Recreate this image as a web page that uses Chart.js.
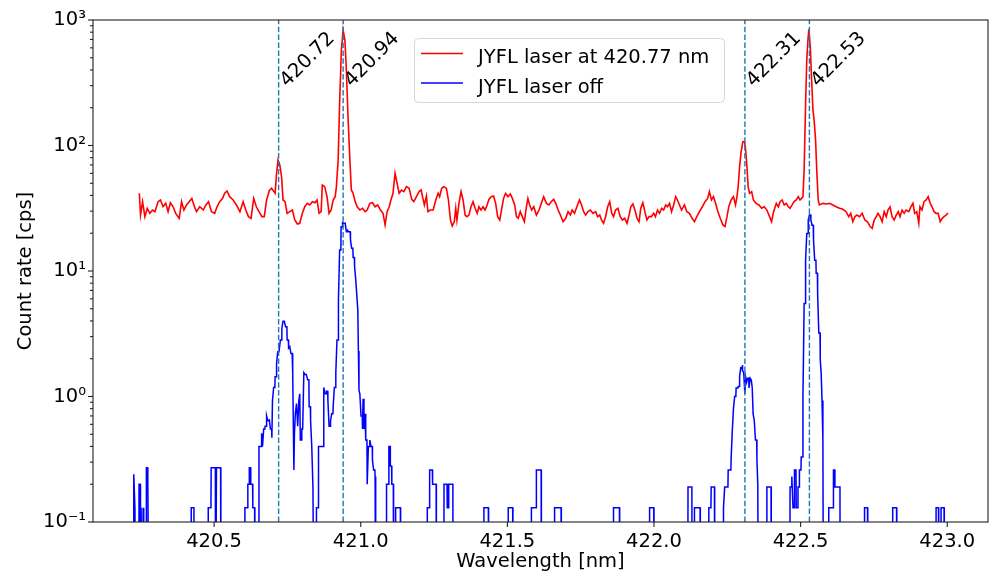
<!DOCTYPE html>
<html>
<head>
<meta charset="utf-8">
<script src="https://cdn.jsdelivr.net/npm/chart.js@4.4.0/dist/chart.umd.min.js"></script>
<style>
  html, body { margin: 0; padding: 0; background: #fff; }
  #wrap { width: 992px; height: 577px; position: relative; }
</style>
</head>
<body>
<div id="wrap"><canvas id="spectrum"></canvas></div>
<script>
// Axis ticks
const xTicks = [420.5, 421.0, 421.5, 422.0, 422.5, 423.0];
const yTicks = [0.1, 1, 10, 100, 1000];
const yTickLabels = ['10⁻¹', '10⁰', '10¹', '10²', '10³'];

// Known transitions (dashed lines)
const peakLines = [420.72, 420.94, 422.31, 422.53];
const peakLabels = ['420.72', '420.94', '422.31', '422.53'];
const peakLabelRate = 290;

// Laser on (red)
const redWavelength = [
  420.245, 420.249, 420.256, 420.264, 420.272, 420.281, 420.290, 420.298, 420.309, 420.317,
  420.326, 420.335, 420.343, 420.351, 420.360, 420.369, 420.381, 420.389, 420.397, 420.406,
  420.415, 420.424, 420.433, 420.440, 420.451, 420.463, 420.472, 420.481, 420.491, 420.502,
  420.510, 420.519, 420.529, 420.536, 420.544, 420.553, 420.565, 420.576, 420.588, 420.599,
  420.608, 420.617, 420.626, 420.635, 420.644, 420.653, 420.663, 420.671, 420.679, 420.688,
  420.696, 420.704, 420.708, 420.713, 420.718, 420.724, 420.730, 420.735, 420.742, 420.749,
  420.758, 420.767, 420.775, 420.784, 420.792, 420.801, 420.809, 420.818, 420.826, 420.835,
  420.844, 420.851, 420.858, 420.865, 420.869, 420.877, 420.885, 420.892, 420.899, 420.906,
  420.913, 420.917, 420.923, 420.928, 420.934, 420.940, 420.946, 420.951, 420.957, 420.963,
  420.968, 420.974, 420.981, 420.988, 420.997, 421.006, 421.015, 421.022, 421.031, 421.040,
  421.049, 421.058, 421.067, 421.076, 421.083, 421.090, 421.097, 421.103, 421.110, 421.117,
  421.124, 421.131, 421.139, 421.147, 421.156, 421.165, 421.174, 421.181, 421.190, 421.199,
  421.206, 421.212, 421.217, 421.224, 421.229, 421.237, 421.247, 421.256, 421.264, 421.269,
  421.276, 421.283, 421.292, 421.299, 421.306, 421.312, 421.319, 421.324, 421.328, 421.335,
  421.342, 421.349, 421.356, 421.362, 421.369, 421.376, 421.383, 421.390, 421.397, 421.403,
  421.410, 421.417, 421.424, 421.431, 421.437, 421.445, 421.453, 421.460, 421.467, 421.474,
  421.481, 421.487, 421.494, 421.502, 421.510, 421.517, 421.525, 421.531, 421.537, 421.544,
  421.551, 421.558, 421.565, 421.570, 421.576, 421.583, 421.590, 421.599, 421.608, 421.616,
  421.624, 421.633, 421.642, 421.650, 421.658, 421.665, 421.673, 421.681, 421.690, 421.699,
  421.707, 421.715, 421.721, 421.729, 421.737, 421.746, 421.753, 421.760, 421.767, 421.775,
  421.783, 421.792, 421.801, 421.808, 421.815, 421.821, 421.828, 421.835, 421.842, 421.849,
  421.856, 421.862, 421.869, 421.877, 421.885, 421.892, 421.900, 421.908, 421.915, 421.921,
  421.928, 421.935, 421.942, 421.949, 421.955, 421.962, 421.969, 421.976, 421.983, 421.991,
  421.999, 422.005, 422.012, 422.019, 422.026, 422.033, 422.040, 422.046, 422.053, 422.060,
  422.067, 422.074, 422.080, 422.087, 422.094, 422.104, 422.112, 422.121, 422.130, 422.138,
  422.146, 422.155, 422.165, 422.174, 422.183, 422.189, 422.196, 422.203, 422.210, 422.218,
  422.226, 422.235, 422.242, 422.249, 422.255, 422.263, 422.271, 422.278, 422.283, 422.287,
  422.292, 422.297, 422.303, 422.309, 422.312, 422.317, 422.321, 422.326, 422.333, 422.339,
  422.348, 422.358, 422.367, 422.376, 422.385, 422.394, 422.401, 422.408, 422.417, 422.424,
  422.430, 422.437, 422.444, 422.451, 422.458, 422.464, 422.471, 422.478, 422.485, 422.492,
  422.498, 422.503, 422.508, 422.512, 422.517, 422.521, 422.525, 422.528, 422.533, 422.537,
  422.542, 422.546, 422.551, 422.555, 422.560, 422.564, 422.576, 422.587, 422.598, 422.610,
  422.621, 422.633, 422.644, 422.655, 422.664, 422.671, 422.678, 422.685, 422.692, 422.701,
  422.710, 422.719, 422.728, 422.737, 422.744, 422.751, 422.758, 422.764, 422.771, 422.778,
  422.785, 422.792, 422.798, 422.805, 422.812, 422.819, 422.826, 422.833, 422.839, 422.846,
  422.853, 422.860, 422.869, 422.876, 422.883, 422.889, 422.896, 422.903, 422.907, 422.914,
  422.921, 422.928, 422.935, 422.942, 422.948, 422.955, 422.962, 422.969, 422.976, 422.983,
  422.989, 422.996, 423.003
];
const redRate = [
  41.6, 27.9, 35.7, 27.1, 31.6, 28.8, 30.6, 29.7, 35.7, 36.8,
  32.5, 34.6, 29.7, 35.0, 32.5, 28.8, 26.3, 35.7, 30.6, 33.6,
  35.7, 37.9, 32.5, 29.7, 32.5, 30.6, 33.6, 35.7, 29.7, 28.8,
  32.5, 35.7, 37.9, 41.6, 43.4, 39.1, 36.8, 33.6, 29.7, 35.7,
  30.6, 27.1, 26.3, 37.9, 32.5, 29.7, 27.1, 27.1, 36.8, 43.6,
  45.6, 42.9, 41.6, 60.0, 76.6, 69.9, 56.5, 36.8, 35.7, 28.8,
  29.7, 30.6, 25.5, 23.7, 24.0, 28.8, 32.5, 34.6, 33.6, 35.7,
  35.0, 36.8, 28.8, 29.7, 48.4, 47.0, 39.1, 28.8, 30.6, 36.8,
  39.1, 47.0, 76.6, 217, 577, 832, 693, 400, 160, 76.6,
  44.2, 41.6, 35.7, 32.5, 30.6, 31.6, 29.7, 30.6, 34.6, 35.0,
  32.5, 33.6, 30.6, 28.8, 23.3, 29.7, 32.5, 36.8, 41.6, 60.0,
  49.9, 41.6, 44.2, 42.9, 47.0, 45.6, 37.2, 35.7, 39.1, 42.9,
  44.2, 37.9, 33.6, 39.6, 29.7, 30.6, 30.6, 36.8, 41.6, 39.1,
  45.6, 47.0, 45.6, 36.8, 25.5, 22.8, 24.7, 31.6, 25.5, 34.6,
  42.9, 36.8, 27.9, 27.1, 27.9, 32.5, 35.7, 31.6, 28.8, 32.5,
  30.6, 32.5, 30.6, 33.6, 37.2, 39.1, 39.6, 34.6, 27.1, 25.5,
  31.6, 37.9, 41.6, 39.1, 41.1, 37.9, 33.6, 27.1, 26.3, 29.7,
  27.1, 24.7, 32.5, 37.9, 33.6, 30.6, 32.5, 27.9, 30.6, 34.6,
  39.1, 34.6, 33.6, 35.7, 37.2, 34.6, 30.6, 27.9, 24.7, 26.3,
  29.7, 27.9, 30.6, 28.8, 32.5, 36.8, 33.6, 29.7, 27.9, 29.7,
  30.6, 28.8, 29.7, 27.1, 27.9, 25.5, 24.0, 27.1, 32.5, 35.7,
  28.8, 27.1, 30.6, 31.6, 27.1, 25.5, 26.3, 24.0, 27.9, 32.5,
  34.2, 30.6, 26.3, 24.7, 31.6, 35.0, 29.7, 25.5, 27.1, 27.1,
  28.8, 27.1, 30.6, 28.8, 31.6, 30.6, 33.6, 32.5, 34.6, 29.7,
  33.6, 39.1, 36.8, 33.6, 30.6, 33.6, 29.7, 28.8, 26.3, 24.7,
  27.1, 29.7, 32.5, 35.7, 37.9, 42.9, 36.8, 39.1, 34.6, 29.7,
  26.3, 23.3, 22.6, 27.1, 32.5, 36.8, 39.1, 33.6, 39.1, 47.0,
  67.8, 89, 107, 107, 95, 67.8, 47.0, 41.6, 42.9, 36.8,
  34.6, 33.6, 31.6, 32.5, 30.6, 27.1, 24.7, 29.7, 34.6, 32.5,
  35.7, 36.8, 33.6, 34.6, 32.5, 31.6, 33.6, 35.7, 36.8, 39.1,
  36.8, 37.9, 39.1, 63.8, 217, 480, 693, 842, 613, 354,
  192, 160, 111, 63.8, 36.8, 33.6, 34.6, 34.2, 34.6, 33.6,
  32.5, 31.6, 31.0, 29.7, 27.1, 28.8, 24.7, 27.1, 27.9, 27.1,
  28.8, 25.5, 24.7, 22.6, 21.9, 25.5, 27.1, 28.8, 27.1, 24.7,
  29.7, 27.1, 30.6, 32.5, 27.1, 25.5, 27.9, 29.7, 27.1, 30.6,
  28.8, 30.6, 29.7, 32.5, 34.6, 28.8, 29.7, 24.0, 32.5, 30.6,
  35.7, 36.8, 39.1, 34.6, 32.5, 29.7, 28.8, 28.8, 24.7, 26.3,
  27.1, 27.9, 29.0
];

// Laser off (blue): each value holds from its wavelength to the next one, 0 = no counts
const blueWavelength = [
  420.220, 420.226, 420.230, 420.233, 420.244, 420.249, 420.251, 420.255, 420.258, 420.260,
  420.269, 420.274, 420.278, 420.422, 420.432, 420.480, 420.490, 420.505, 420.508, 420.523,
  420.605, 420.615, 420.620, 420.625, 420.632, 420.639, 420.653, 420.662, 420.665, 420.669,
  420.674, 420.679, 420.683, 420.688, 420.692, 420.697, 420.699, 420.703, 420.708, 420.713,
  420.717, 420.722, 420.726, 420.731, 420.735, 420.740, 420.744, 420.749, 420.754, 420.758,
  420.762, 420.767, 420.769, 420.772, 420.774, 420.777, 420.781, 420.785, 420.789, 420.792,
  420.794, 420.799, 420.802, 420.806, 420.810, 420.815, 420.819, 420.824, 420.829, 420.833,
  420.837, 420.841, 420.849, 420.856, 420.874, 420.878, 420.883, 420.888, 420.892, 420.897,
  420.901, 420.906, 420.910, 420.915, 420.919, 420.924, 420.928, 420.933, 420.938, 420.942,
  420.947, 420.951, 420.956, 420.960, 420.965, 420.969, 420.974, 420.979, 420.983, 420.987,
  420.990, 420.992, 420.994, 420.997, 421.001, 421.006, 421.008, 421.011, 421.015, 421.017,
  421.022, 421.026, 421.031, 421.035, 421.040, 421.044, 421.049, 421.051, 421.088, 421.096,
  421.101, 421.106, 421.112, 421.119, 421.136, 421.227, 421.235, 421.245, 421.258, 421.284,
  421.295, 421.300, 421.315, 421.420, 421.436, 421.503, 421.519, 421.582, 421.599, 421.616,
  421.661, 421.684, 421.862, 421.883, 421.985, 422.000, 422.116, 422.130, 422.138, 422.158,
  422.187, 422.195, 422.207, 422.237, 422.241, 422.253, 422.263, 422.267, 422.271, 422.275,
  422.280, 422.287, 422.292, 422.296, 422.301, 422.303, 422.306, 422.310, 422.312, 422.316,
  422.319, 422.324, 422.328, 422.332, 422.335, 422.338, 422.342, 422.346, 422.351, 422.354,
  422.356, 422.385, 422.400, 422.464, 422.470, 422.474, 422.479, 422.485, 422.491, 422.496,
  422.502, 422.508, 422.512, 422.517, 422.521, 422.526, 422.530, 422.535, 422.539, 422.544,
  422.548, 422.553, 422.558, 422.562, 422.567, 422.570, 422.573, 422.576, 422.578, 422.596,
  422.612, 422.617, 422.635, 422.718, 422.729, 422.814, 422.828, 422.962, 422.971, 422.979,
  422.990
];
const blueRate = [
  0, 0.24, 0.13, 0, 0.2, 0, 0.13, 0, 0.13, 0,
  0.27, 0.2, 0, 0.13, 0, 0.13, 0.27, 0, 0.27, 0,
  0.13, 0.2, 0.27, 0.2, 0.13, 0, 0.4, 0.51, 0.4, 0.55,
  0.58, 0.70, 0.64, 0.66, 0.55, 0.47, 0.93, 1.18, 1.44, 1.84,
  2.27, 2.35, 2.82, 3.5, 3.97, 3.9, 3.6, 2.82, 2.43, 2.5,
  2.2, 1.84, 1.55, 0.26, 0.51, 0.73, 0.88, 0.58, 0.93, 1.05,
  0.45, 0.55, 0.55, 1.55, 1.5, 1.5, 1.36, 0.83, 0.64, 0.4,
  0.19, 0, 0.13, 0.4, 1.18, 1.05, 1.1, 0.93, 0.58, 0.64,
  0.73, 0.83, 1.18, 1.55, 2.82, 5.9, 14.7, 22.5, 24.3, 24,
  24, 20.5, 21, 20.5, 17.7, 15.2, 12.8, 10.9, 8.5, 6.2,
  4.9, 2.3, 1.12, 1.05, 0.70, 0.55, 0.96, 0.55, 0.73, 0.45,
  0.2, 0.4, 0.45, 0.4, 0.31, 0.26, 0.23, 0, 0.2, 0.4,
  0.28, 0.2, 0, 0.13, 0, 0.13, 0.26, 0.2, 0, 0.2,
  0.13, 0.2, 0, 0.13, 0, 0.13, 0, 0.13, 0.26, 0,
  0.13, 0, 0.13, 0, 0.13, 0, 0.19, 0, 0.13, 0,
  0.13, 0.19, 0, 0.13, 0.19, 0.26, 0.32, 0.53, 0.8, 1.0,
  1.17, 1.2, 1.45, 1.7, 1.78, 1.6, 1.55, 1.05, 1.45, 1.3,
  1.4, 1.17, 1.4, 1.35, 1.17, 0.73, 0.64, 0.45, 0.31, 0.2,
  0, 0.19, 0, 0.19, 0.23, 0.13, 0.26, 0.13, 0.19, 0.26,
  0.33, 1.0, 5.5, 12.2, 19.9, 25.5, 27.9, 25.5, 23.2, 17.7,
  12.2, 9.6, 6.6, 3.2, 1.96, 1.55, 0.93, 0.45, 0, 0.13,
  0.26, 0.19, 0, 0.13, 0, 0.13, 0, 0.13, 0, 0.13,
  0
];

const FONT = '"DejaVu Sans", sans-serif';
const FONT_SIZE = 19.5;

// zero counts fall below the log axis (clipped, as matplotlib does)
const belowAxis = 0.01;

// Long plateaus keep their level up to the next reading; short ones are joined directly
const bluePoints = () => {
  const pts = [];
  blueWavelength.forEach((w, i) => {
    const v = blueRate[i] > 0 ? blueRate[i] : belowAxis;
    pts.push({ x: w, y: v });
    const next = blueWavelength[i + 1];
    if (next !== undefined && next - w > 0.0045) pts.push({ x: next - 0.0008, y: v });
  });
  return pts;
};

const line = (ctx, x1, y1, x2, y2) => {
  ctx.beginPath();
  ctx.moveTo(x1, y1);
  ctx.lineTo(x2, y2);
  ctx.stroke();
};

// Frame, tick marks, peak labels and legend (matplotlib look)
const overlay = {
  id: 'overlay',
  afterDatasetsDraw(chart) {
    const { ctx, chartArea: a, scales: { x, y } } = chart;
    ctx.save();

    ctx.strokeStyle = '#222';
    ctx.lineWidth = 1.1;
    ctx.strokeRect(a.left, a.top, a.right - a.left, a.bottom - a.top);

    xTicks.forEach(v => {
      const px = x.getPixelForValue(v);
      line(ctx, px, a.bottom, px, a.bottom + 5);
    });
    for (let d = 0; d < yTicks.length; d++) {
      const py = y.getPixelForValue(yTicks[d]);
      line(ctx, a.left - 5, py, a.left, py);
      if (d === yTicks.length - 1) break;
      for (let k = 2; k <= 9; k++) {
        const pm = y.getPixelForValue(yTicks[d] * k);
        line(ctx, a.left - 3, pm, a.left, pm);
      }
    }

    // rotated labels of the dashed lines
    ctx.font = `${FONT_SIZE}px ${FONT}`;
    ctx.fillStyle = '#000';
    ctx.textBaseline = 'alphabetic';
    ctx.textAlign = 'left';
    peakLines.forEach((v, i) => {
      ctx.save();
      ctx.translate(x.getPixelForValue(v) + 8.5, y.getPixelForValue(peakLabelRate));
      ctx.rotate(-Math.PI / 4);
      ctx.fillText(peakLabels[i], 0, 0);
      ctx.restore();
    });

    // legend box
    const lx = 414.5, ly = 38.5, lw = 310, lh = 64;
    ctx.beginPath();
    ctx.roundRect(lx, ly, lw, lh, 4);
    ctx.fillStyle = 'rgba(255,255,255,0.8)';
    ctx.fill();
    ctx.strokeStyle = '#d6d6d6';
    ctx.lineWidth = 1;
    ctx.stroke();

    const entries = chart.data.datasets.filter(ds => ds.label);
    entries.forEach((ds, i) => {
      const ry = 53.5 + i * 29.5;
      ctx.strokeStyle = ds.borderColor;
      ctx.lineWidth = ds.borderWidth;
      line(ctx, 421, ry, 463, ry);
      ctx.fillStyle = '#000';
      ctx.fillText(ds.label, 478, ry + 9.7);
    });

    ctx.restore();
  }
};

const datasets = [
  ...peakLines.map(v => ({
    label: '',
    data: [{ x: v, y: yTicks[0] }, { x: v, y: yTicks[yTicks.length - 1] }],
    borderColor: '#1f77b4',
    borderWidth: 1.4,
    borderDash: [5.5, 2.4],
    pointRadius: 0,
    order: 0
  })),
  {
    label: 'JYFL laser at 420.77 nm',
    data: redWavelength.map((w, i) => ({ x: w, y: redRate[i] })),
    borderColor: '#ff0000',
    borderWidth: 1.6,
    pointRadius: 0,
    order: 2
  },
  {
    label: 'JYFL laser off',
    data: bluePoints(),
    borderColor: '#0000ff',
    borderWidth: 1.5,
    pointRadius: 0,
    order: 1
  }
];

new Chart(document.getElementById('spectrum'), {
  type: 'line',
  data: { datasets },
  options: {
    responsive: true,
    maintainAspectRatio: false,
    animation: false,
    events: [],
    clip: 0,
    layout: { padding: { top: 20, right: 4, left: 0, bottom: 0 } },
    plugins: { legend: { display: false }, tooltip: { enabled: false } },
    scales: {
      x: {
        type: 'linear',
        min: 420.087,
        max: 423.139,
        afterBuildTicks: s => { s.ticks = xTicks.map(v => ({ value: v })); },
        afterFit: s => { s.height = 55; },
        grid: { display: false, drawTicks: true, tickLength: 5 },
        border: { display: false },
        ticks: {
          color: '#000',
          padding: 3,
          maxRotation: 0,
          font: { family: FONT, size: FONT_SIZE },
          callback: v => v.toFixed(1)
        },
        title: {
          display: true,
          text: 'Wavelength [nm]',
          color: '#000',
          font: { family: FONT, size: FONT_SIZE },
          padding: { top: 0, bottom: 3 }
        }
      },
      y: {
        type: 'logarithmic',
        min: 0.1,
        max: 1000,
        afterBuildTicks: s => { s.ticks = yTicks.map(v => ({ value: v })); },
        afterFit: s => { s.width = 93; },
        grid: { display: false, drawTicks: true, tickLength: 5 },
        border: { display: false },
        ticks: {
          color: '#000',
          padding: 2,
          font: { family: FONT, size: FONT_SIZE },
          callback: v => yTickLabels[yTicks.indexOf(v)] ?? ''
        },
        title: {
          display: true,
          text: 'Count rate [cps]',
          color: '#000',
          font: { family: FONT, size: FONT_SIZE },
          padding: { top: 14, bottom: 0 }
        }
      }
    }
  },
  plugins: [overlay]
});
</script>
</body>
</html>
